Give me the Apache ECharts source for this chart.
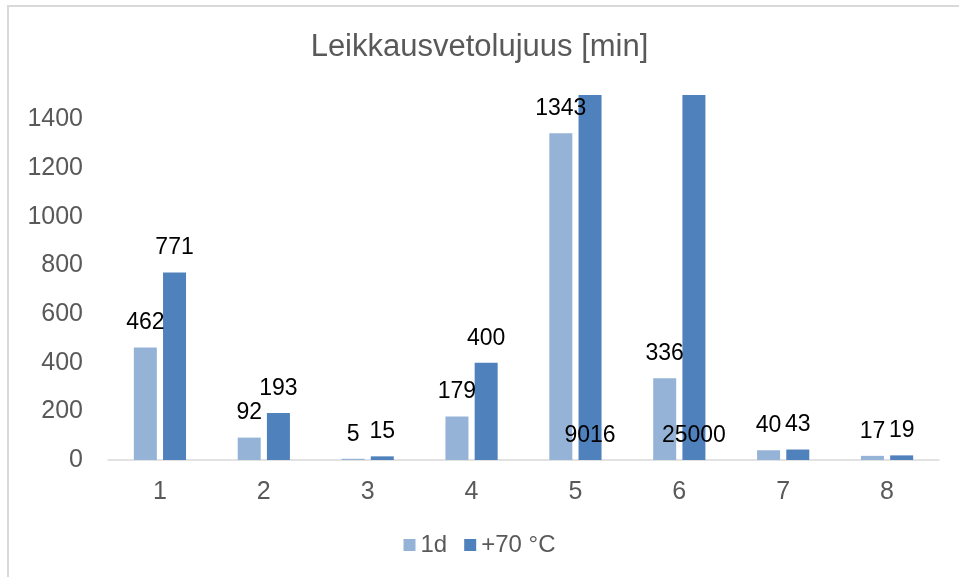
<!DOCTYPE html>
<html>
<head>
<meta charset="utf-8">
<script src="https://cdn.jsdelivr.net/npm/echarts@6/dist/echarts.min.js"></script>
<style>
html,body{margin:0;padding:0;background:#fff;overflow:hidden;}
#frame{position:absolute;left:7px;top:5px;width:960px;height:580px;border-left:2px solid #d9d9d9;border-top:2px solid #d9d9d9;}
#chart{position:absolute;left:0;top:0;width:959px;height:577px;}
</style>
</head>
<body>
<div id="frame"></div>
<div id="chart"></div>
<script>
var categories = ['1','2','3','4','5','6','7','8'];
var series1d = [462, 92, 5, 179, 1343, 336, 40, 17];
var series70 = [771, 193, 15, 400, 9016, 25000, 43, 19];
var seriesNames = ['1d', '+70 °C'];
var yTicks = {min: 0, max: 1500, interval: 200};

var font = 'Liberation Sans, Arial, sans-serif';
function toData(arr) {
  return arr.map(function (v) {
    if (v > yTicks.max) {
      return {value: v, label: {position: 'insideBottom', distance: 13}};
    }
    return v;
  });
}
var chart = echarts.init(document.getElementById('chart'));
chart.setOption({
  animation: false,
  title: {
    text: 'Leikkausvetolujuus [min]',
    left: 'center', top: 27,
    textStyle: {fontFamily: font, fontSize: 31, fontWeight: 'normal', color: '#595959'}
  },
  legend: {
    bottom: 15, left: 'center',
    itemWidth: 12, itemHeight: 12, itemGap: 17,
    icon: 'rect',
    textStyle: {fontFamily: font, fontSize: 24, color: '#595959'},
    data: seriesNames
  },
  grid: {left: 108, right: 20, top: 95, bottom: 117, containLabel: false},
  xAxis: {
    type: 'category', data: categories,
    axisLine: {lineStyle: {color: '#d9d9d9', width: 1.5}},
    axisTick: {show: false},
    axisLabel: {fontFamily: font, fontSize: 25, color: '#595959', margin: 20}
  },
  yAxis: {
    type: 'value', min: yTicks.min, max: yTicks.max, interval: yTicks.interval,
    axisLine: {show: false}, axisTick: {show: false}, splitLine: {show: false},
    axisLabel: {fontFamily: font, fontSize: 25, color: '#595959', margin: 25, showMaxLabel: false,
      formatter: function (v) { return String(v); }}
  },
  series: [
    {
      name: seriesNames[0], type: 'bar', data: toData(series1d),
      barWidth: 23, barGap: '27%',
      itemStyle: {color: '#95b3d7'},
      label: {show: true, position: 'top', distance: 13, fontFamily: font, fontSize: 23, color: '#000'}
    },
    {
      name: seriesNames[1], type: 'bar', data: toData(series70),
      barWidth: 23,
      itemStyle: {color: '#4f81bd'},
      label: {show: true, position: 'top', distance: 13, fontFamily: font, fontSize: 23, color: '#000'}
    }
  ]
});
</script>
</body>
</html>
